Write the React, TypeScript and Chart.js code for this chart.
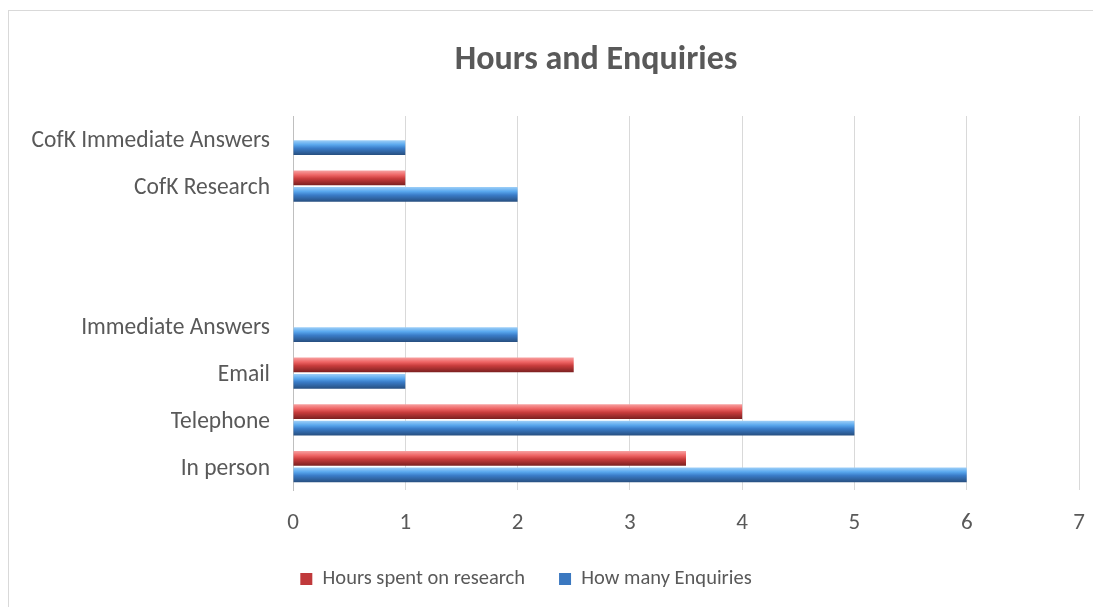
import React, { useEffect, useRef } from "react";
import { Chart, registerables } from "chart.js";

Chart.register(...registerables);

const categories = [
  "CofK Immediate Answers",
  "CofK Research",
  "",
  "",
  "Immediate Answers",
  "Email",
  "Telephone",
  "In person",
];
const hoursSpent = [null, 1, null, null, null, 2.5, 4, 3.5];
const howManyEnquiries = [1, 2, null, null, 2, 1, 5, 6];
const xTicks = [0, 1, 2, 3, 4, 5, 6, 7];

const CAT_PCT = 0.7;
const BAR_PCT = 0.9;
const FONT = "Carlito, Lato, 'Open Sans', sans-serif";

function makeGradient(stops: string[]) {
  return (ctx: any) => {
    const chart = ctx.chart;
    const y = chart.scales && chart.scales.y;
    if (!y || ctx.dataIndex === undefined) return stops[1];
    const center = y.getPixelForValue(ctx.dataIndex);
    const catH = (y.bottom - y.top) / categories.length;
    const slot = (catH * CAT_PCT) / 2;
    const c = center + (ctx.datasetIndex === 0 ? -slot / 2 : slot / 2);
    const h = slot * BAR_PCT;
    const g = chart.ctx.createLinearGradient(0, c - h / 2, 0, c + h / 2);
    g.addColorStop(0, stops[0]);
    g.addColorStop(0.3, stops[1]);
    g.addColorStop(0.55, stops[2]);
    g.addColorStop(1, stops[3]);
    return g;
  };
}

const recenterPlugin = {
  id: "recenter",
  afterLayout(chart: any) {
    const t = chart.titleBlock;
    if (t) {
      t.left = 587 - 420;
      t.right = 587 + 420;
    }
    const l = chart.legend;
    if (l) {
      l.left = 517 - 500;
      l.right = 517 + 500;
    }
  },
};

export default function App() {
  const ref = useRef<HTMLCanvasElement>(null);
  useEffect(() => {
    if (!ref.current) return;
    const chart = new Chart(ref.current, {
      type: "bar",
      data: {
        labels: categories,
        datasets: [
          {
            label: "Hours spent on research",
            data: hoursSpent,
            backgroundColor: makeGradient(["#f7a0a0", "#ee6464", "#c83c3c", "#7a2020"]),
            categoryPercentage: CAT_PCT,
            barPercentage: BAR_PCT,
          },
          {
            label: "How many Enquiries",
            data: howManyEnquiries,
            backgroundColor: makeGradient(["#9fd0f8", "#5aa8ee", "#3a7cc8", "#274f80"]),
            categoryPercentage: CAT_PCT,
            barPercentage: BAR_PCT,
          },
        ],
      },
      plugins: [recenterPlugin],
      options: {
        indexAxis: "y",
        animation: false,
        responsive: true,
        maintainAspectRatio: false,
        layout: { padding: { top: 0, right: 30, bottom: 11.75, left: 0 } },
        plugins: {
          title: {
            display: true,
            text: "Hours and Enquiries",
            color: "#595959",
            font: { family: FONT, size: 34, weight: "bold", lineHeight: 1.2 },
            padding: { top: 28.6, bottom: 35.6 },
          },
          legend: {
            position: "bottom",
            labels: {
              color: "#595959",
              font: { family: FONT, size: 20.5 },
              boxWidth: 12,
              boxHeight: 12,
              padding: 34,
              generateLabels: () => [
                { text: "Hours spent on research", fillStyle: "#c0393b", strokeStyle: "#c0393b", lineWidth: 0, datasetIndex: 0, hidden: false, fontColor: "#595959" },
                { text: "How many Enquiries", fillStyle: "#3b78c0", strokeStyle: "#3b78c0", lineWidth: 0, datasetIndex: 1, hidden: false, fontColor: "#595959" },
              ],
            },
          },
          tooltip: { enabled: false },
        },
        scales: {
          x: {
            min: 0,
            max: 7,
            afterBuildTicks: (scale: any) => {
              scale.ticks = xTicks.map((v) => ({ value: v }));
            },
            ticks: { color: "#595959", font: { family: FONT, size: 23 }, padding: 19 },
            grid: { color: "#d9d9d9", drawTicks: false },
            border: { display: false },
            afterFit: (scale: any) => {
              scale.height = 44.75;
            },
          },
          y: {
            ticks: { color: "#595959", font: { family: FONT, size: 23.5 }, padding: 15, autoSkip: false, labelOffset: 2 },
            grid: { display: false },
            border: { display: true, color: "#bfbfbf" },
            afterFit: (scale: any) => {
              scale.width = 284;
            },
          },
        },
      },
    });
    return () => chart.destroy();
  }, []);
  return (
    <div style={{ marginTop: 2, border: "1px solid #d9d9d9", width: 1100, height: 600, background: "#fff" }}>
      <canvas ref={ref} />
    </div>
  );
}
